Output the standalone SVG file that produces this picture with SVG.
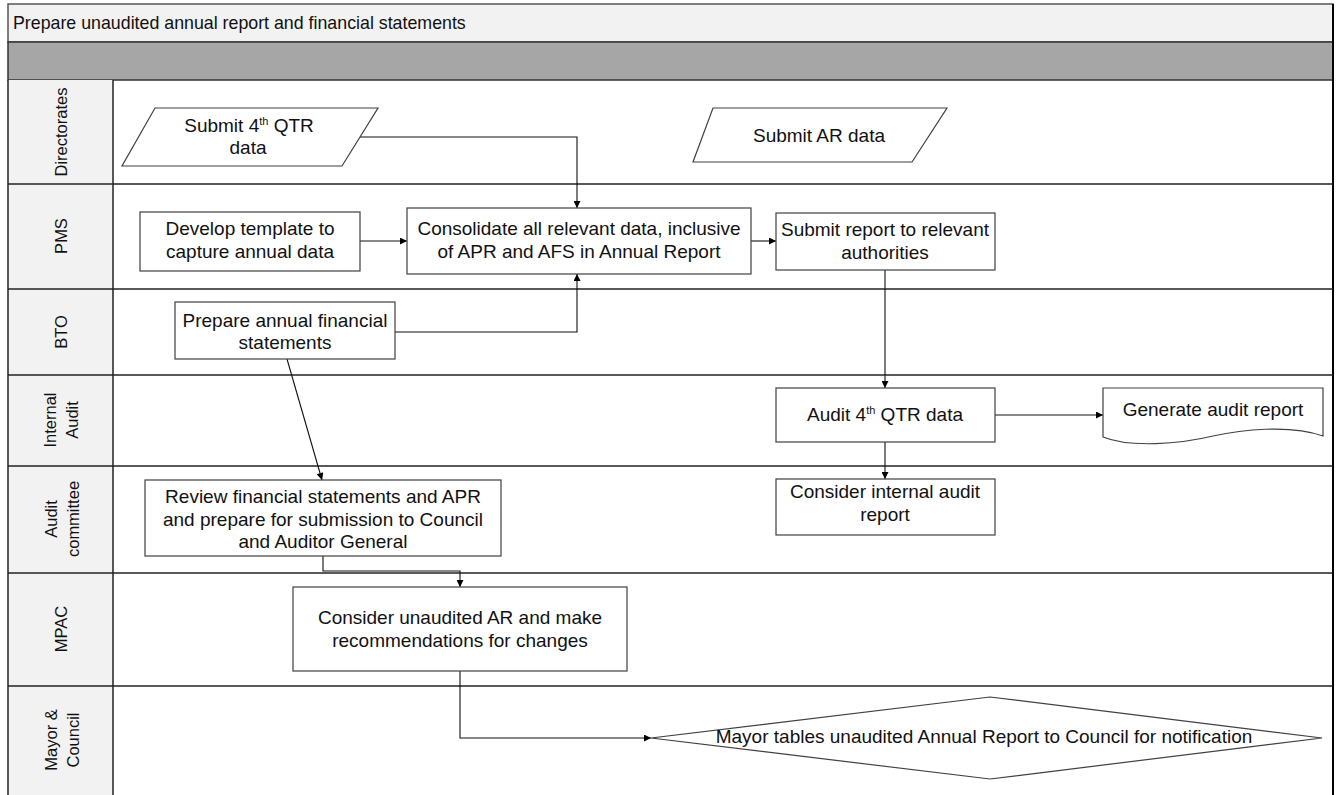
<svg xmlns="http://www.w3.org/2000/svg" width="1337" height="795" viewBox="0 0 1337 795">
  <defs>
    <marker id="arrow" viewBox="0 0 10 10" refX="10" refY="5" markerWidth="9" markerHeight="7" markerUnits="userSpaceOnUse" orient="auto">
      <path d="M0,0 L10,5 L0,10 Z" fill="#000"/>
    </marker>
    <style>
      text { font-family: "Liberation Sans", Arial, sans-serif; fill: #111; }
      .title { font-size: 17.8px; }
      .lane { font-size: 16.5px; text-anchor: middle; }
      .lbl { font-size: 19px; text-anchor: middle; }
      .sup { font-size: 11px; }
      .shape { fill: #fff; stroke: #404040; stroke-width: 1.2; }
      .sep { stroke: #222; stroke-width: 1.5; fill: none; }
      .conn { fill: none; stroke: #111; stroke-width: 1.1; marker-end: url(#arrow); }
    </style>
  </defs>

  <rect x="0" y="0" width="1337" height="795" fill="#fff"/>

  <!-- pool header -->
  <g id="pool-header">
    <rect x="8" y="4" width="1325" height="38" fill="#f2f2f2" stroke="#555" stroke-width="1.5"/>
    <text class="title" x="13" y="29">Prepare unaudited annual report and financial statements</text>
    <rect x="8" y="42" width="1325" height="38" fill="#a6a6a6" stroke="#333" stroke-width="1.5"/>
  </g>

  <!-- swimlanes -->
  <g id="lanes">
    <rect x="8" y="80" width="105" height="720" fill="#f2f2f2"/>
    <line class="sep" x1="8" y1="80" x2="8" y2="795"/>
    <line class="sep" x1="113" y1="80" x2="113" y2="795"/>
    <line class="sep" x1="1333" y1="4" x2="1333" y2="795" style="stroke:#000;stroke-width:2"/>
    <line class="sep" x1="8" y1="184" x2="1333" y2="184"/>
    <line class="sep" x1="8" y1="289" x2="1333" y2="289"/>
    <line class="sep" x1="8" y1="375" x2="1333" y2="375"/>
    <line class="sep" x1="8" y1="466" x2="1333" y2="466"/>
    <line class="sep" x1="8" y1="573" x2="1333" y2="573"/>
    <line class="sep" x1="8" y1="686" x2="1333" y2="686"/>
    <text class="lane" transform="translate(67,132) rotate(-90)">Directorates</text>
    <text class="lane" transform="translate(67,236) rotate(-90)">PMS</text>
    <text class="lane" transform="translate(67,332) rotate(-90)">BTO</text>
    <text class="lane" transform="translate(56,420) rotate(-90)">Internal</text>
    <text class="lane" transform="translate(78,420) rotate(-90)">Audit</text>
    <text class="lane" transform="translate(57,519) rotate(-90)">Audit</text>
    <text class="lane" transform="translate(79,519) rotate(-90)">committee</text>
    <text class="lane" transform="translate(67,629) rotate(-90)">MPAC</text>
    <text class="lane" transform="translate(57,740) rotate(-90)">Mayor &amp;</text>
    <text class="lane" transform="translate(79,740) rotate(-90)">Council</text>
  </g>

  <!-- connectors -->
  <g id="connectors">
    <path class="conn" d="M360,137 H577 V208"/>
    <path class="conn" d="M360,241 H407"/>
    <path class="conn" d="M395,332 H577 V274"/>
    <path class="conn" d="M751,241 H776"/>
    <path class="conn" d="M885,270 V388"/>
    <path class="conn" d="M995,415 H1103"/>
    <path class="conn" d="M885,442 V479"/>
    <path class="conn" d="M287,359 L322,480"/>
    <path class="conn" d="M323,556 V571 H460 V587"/>
    <path class="conn" d="M460,671 V738 H651"/>
  </g>

  <!-- nodes -->
  <g id="submit-4th-qtr-data">
    <polygon class="shape" points="155,108 378,108 342,166 122,166"/>
    <text class="lbl" x="249" y="132">Submit 4<tspan class="sup" dy="-7">th</tspan><tspan dy="7"> QTR</tspan></text>
    <text class="lbl" x="248" y="154">data</text>
  </g>

  <g id="submit-ar-data">
    <polygon class="shape" points="713,108 947,108 912,162 693,162"/>
    <text class="lbl" x="819" y="142">Submit AR data</text>
  </g>

  <g id="develop-template">
    <rect class="shape" x="140" y="212" width="220" height="59"/>
    <text class="lbl" x="250" y="235">Develop template to</text>
    <text class="lbl" x="250" y="258">capture annual data</text>
  </g>

  <g id="consolidate-data">
    <rect class="shape" x="407" y="208" width="344" height="66"/>
    <text class="lbl" x="579" y="235">Consolidate all relevant data, inclusive</text>
    <text class="lbl" x="579" y="258">of APR and AFS in Annual Report</text>
  </g>

  <g id="submit-report">
    <rect class="shape" x="776" y="213" width="219" height="57"/>
    <text class="lbl" x="885" y="236">Submit report to relevant</text>
    <text class="lbl" x="885" y="259">authorities</text>
  </g>

  <g id="prepare-afs">
    <rect class="shape" x="175" y="302" width="220" height="57"/>
    <text class="lbl" x="285" y="327">Prepare annual financial</text>
    <text class="lbl" x="285" y="349">statements</text>
  </g>

  <g id="audit-4th-qtr-data">
    <rect class="shape" x="776" y="388" width="219" height="54"/>
    <text class="lbl" x="885" y="421">Audit 4<tspan class="sup" dy="-7">th</tspan><tspan dy="7"> QTR data</tspan></text>
  </g>

  <g id="generate-audit-report">
    <path class="shape" d="M1103,388 H1323 V436 C1290,424 1240,430 1213,436 C1180,444 1130,448 1103,437 Z"/>
    <text class="lbl" x="1213" y="416">Generate audit report</text>
  </g>

  <g id="review-financial-statements">
    <rect class="shape" x="145" y="480" width="356" height="76"/>
    <text class="lbl" x="323" y="503">Review financial statements and APR</text>
    <text class="lbl" x="323" y="526">and prepare for submission to Council</text>
    <text class="lbl" x="323" y="548">and Auditor General</text>
  </g>

  <g id="consider-internal-audit-report">
    <rect class="shape" x="776" y="479" width="219" height="56"/>
    <text class="lbl" x="885" y="498">Consider internal audit</text>
    <text class="lbl" x="885" y="521">report</text>
  </g>

  <g id="consider-unaudited-ar">
    <rect class="shape" x="293" y="587" width="334" height="84"/>
    <text class="lbl" x="460" y="624">Consider unaudited AR and make</text>
    <text class="lbl" x="460" y="647">recommendations for changes</text>
  </g>

  <g id="mayor-tables-report">
    <polygon class="shape" points="651,738 990,697 1322,738 990,779"/>
    <text class="lbl" x="984" y="743">Mayor tables unaudited Annual Report to Council for notification</text>
  </g>
</svg>
